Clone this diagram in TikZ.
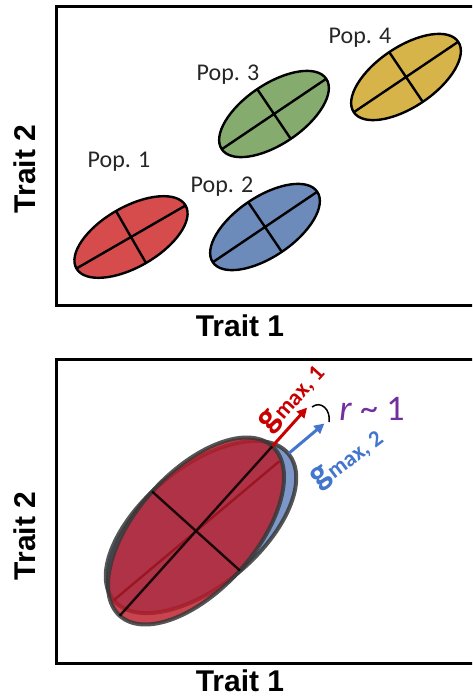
\documentclass[tikz,border=0pt]{standalone}
\usepackage{fontspec}
\setmainfont{Carlito}
\newfontfamily\arialfont{Liberation Sans}
\usetikzlibrary{shapes.geometric,arrows.meta,calc}

\definecolor{popred}{RGB}{214,76,76}
\definecolor{popblue}{RGB}{108,138,186}
\definecolor{popgreen}{RGB}{134,171,111}
\definecolor{popyellow}{RGB}{214,180,74}
\definecolor{gred}{RGB}{200,0,0}
\definecolor{gblue}{RGB}{68,118,205}
\definecolor{rpurple}{RGB}{112,48,160}
\definecolor{deepred}{RGB}{188,28,42}
\definecolor{softblue}{RGB}{125,152,200}

\begin{document}
\begin{tikzpicture}[x=1pt,y=-1pt,
  popell/.style={ellipse, draw=black, line width=2.4pt, inner sep=0pt, outer sep=0pt,
                 minimum width=126pt, minimum height=60pt},
  axisline/.style={line width=2.4pt, black},
  panel/.style={line width=3pt, black},
  poplabel/.style={anchor=base, text=black!85, font=\fontsize{24}{24}\selectfont},
  traitlabel/.style={font=\arialfont\bfseries\fontsize{30}{30}\selectfont, inner sep=0pt},
  bigell/.style={ellipse, inner sep=0pt, outer sep=0pt, minimum width=228pt, minimum height=118pt},
  bigoutline/.style={line width=4pt, draw=black!78, draw opacity=0.85},
  garrow/.style={line width=3pt, -{Triangle[length=10pt,width=10pt]}},
  glabel/.style={font=\bfseries, inner sep=0pt},
]
\clip (0,0) rectangle (472,698);

% ---------- upper panel: four populations ----------
\draw[panel] (56,7) rectangle (490,305);
\node[traitlabel, rotate=90] (ty1) at (25,169) {Trait 2};
\node[traitlabel] (tx1) at (240,326) {Trait 1};

\node[popell, fill=popred,    rotate=30] (p1) at (131,237) {};
\node[popell, fill=popblue,   rotate=34] (p2) at (265,227) {};
\node[popell, fill=popgreen,  rotate=34] (p3) at (274,114) {};
\node[popell, fill=popyellow, rotate=34] (p4) at (406,77)  {};
\foreach \p in {p1,p2,p3,p4}
  \draw[axisline] (\p.west) -- (\p.east) (\p.north) -- (\p.south);

\node[poplabel] (l1) at (119,167) {Pop. 1};
\node[poplabel] (l2) at (222,192) {Pop. 2};
\node[poplabel] (l3) at (228,81)  {Pop. 3};
\node[poplabel] (l4) at (360,44)  {Pop. 4};

% ---------- lower panel: overlapping G matrices ----------
\draw[panel] (56,359) rectangle (490,663);
\node[traitlabel, rotate=90] (ty2) at (25,536) {Trait 2};
\node[traitlabel] (tx2) at (240,681) {Trait 1};

\node[bigell, fill=softblue, bigoutline, rotate=40] (gb) at (201,527) {};
\draw[axisline, shorten >=12pt] (gb.west) -- (gb.east);
\node[bigell, fill=deepred, fill opacity=0.82, rotate=48] (gr) at (196,531) {};
\node[bigell, bigoutline, rotate=48] (gro) at (196,531) {};
\draw[axisline, draw opacity=0.85] (gr.west) -- (gr.east) (gr.north) -- (gr.south);

% leading eigenvectors
\coordinate (sb) at ($(gb.east)+(40:1pt)$);
\coordinate (tipr) at ($(gr.east)+(48:52pt)$);
\coordinate (tipb) at ($(sb)+(40:46pt)$);
\draw[garrow, gred] (gr.east) -- (tipr);
\draw[garrow, gblue] (sb) -- (tipb);

\node[glabel, text=gred, rotate=48] (g1) at (292,398)
  {\fontsize{37}{37}\selectfont g\raisebox{-3pt}{\fontsize{23}{23}\selectfont max, 1}};
\node[glabel, text=gblue, rotate=37] (g2) at (347,459)
  {\fontsize{37}{37}\selectfont g\raisebox{-3pt}{\fontsize{23}{23}\selectfont max, 2}};

% angle between the two vectors
\draw[line width=1.5pt, black] (312,407) .. controls (321,400) and (331,410) .. (329,422);
\node[anchor=base, text=rpurple, font=\fontsize{36}{36}\selectfont, inner sep=0pt] (r) at (372,420)
  {\textit{r} \textasciitilde{} 1};
\end{tikzpicture}
\end{document}
